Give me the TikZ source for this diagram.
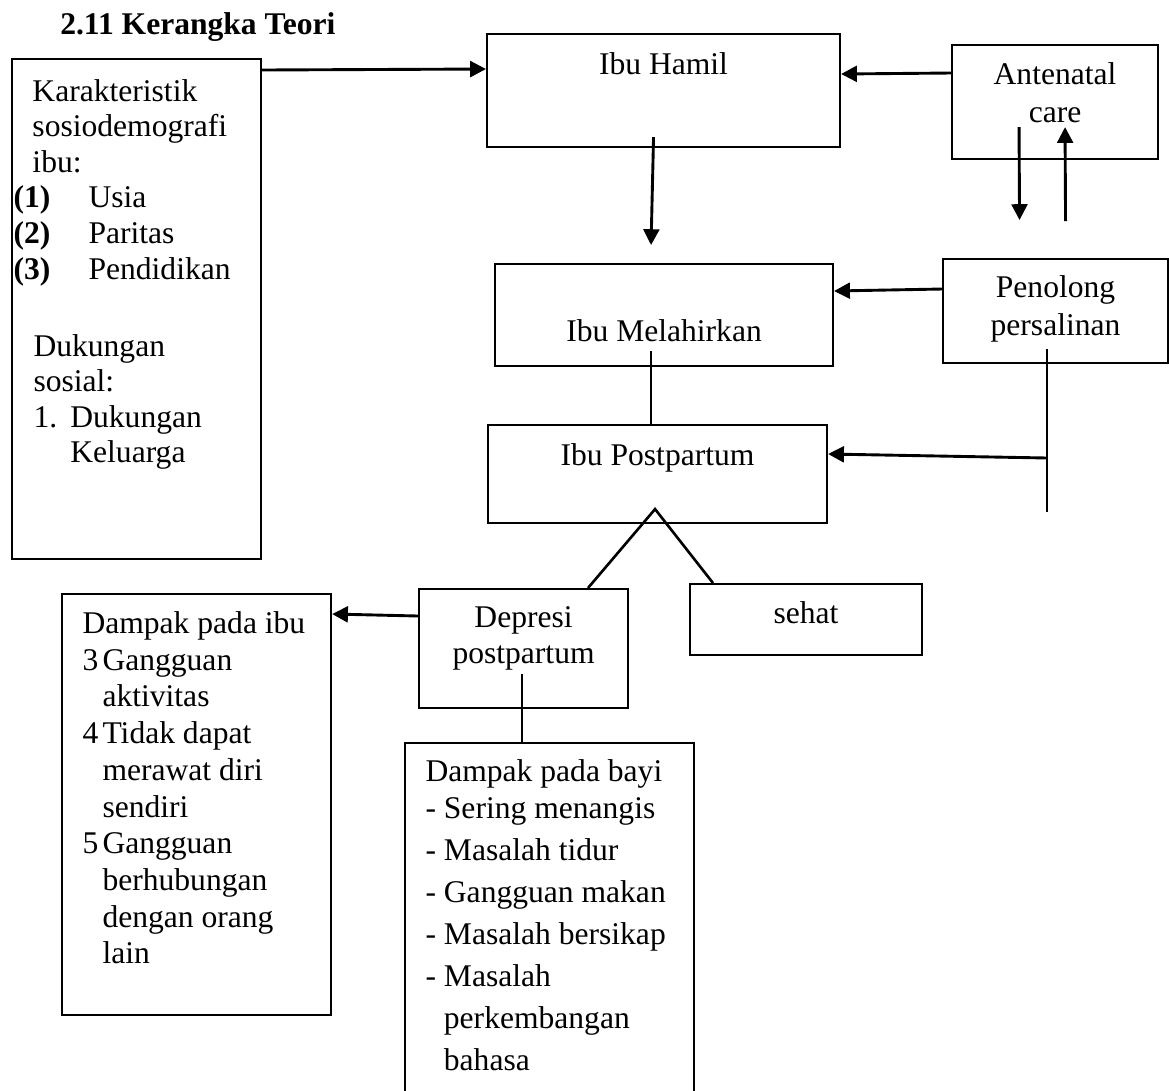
\documentclass[tikz,border=0pt]{standalone}
\usepackage{fontspec}
\setmainfont{Liberation Serif}
\usetikzlibrary{calc,arrows.meta}

\begin{document}
\begin{tikzpicture}[x=0.38pt, y=-0.38pt,
  font=\fontsize{12}{13.5}\selectfont,
  box/.style 2 args={draw, line width=0.8pt, inner sep=0pt, anchor=north west,
    minimum width=#1*0.38pt, minimum height=#2*0.38pt},
  txt/.style={inner sep=0pt, align=left, anchor=north west},
  lskip/.style={font=\fontsize{12}{#1}\selectfont},
  arr/.style={line width=1.1pt, -{Triangle[length=6pt, width=6pt]}},
  conn/.style={line width=1pt}]
  \useasboundingbox (0,0) rectangle (1169,1091);

  \node[anchor=base west, font=\fontsize{12}{13.5}\selectfont\bfseries] (judul) at (51,34) {2.11 Kerangka Teori};

  % kotak
  \node[box={249}{500}] (sosio) at (11,58) {};
  \node[box={353}{113}] (hamil) at (486,33) {};
  \node[box={206}{114}] (anc) at (951,44) {};
  \node[box={338}{102}] (lahir) at (494,263) {};
  \node[box={225}{104}] (tolong) at (942,258) {};
  \node[box={339}{98}] (postp) at (487,424) {};
  \node[box={209}{119}] (depresi) at (418,588) {};
  \node[box={232}{71}] (sehat) at (689,583) {};
  \node[box={269}{421}] (dibu) at (61,593) {};
  \node[box={289}{352}] (dbayi) at (404,742) {};   % bawahnya terpotong

  % teks
  \node[txt] (sosiotxt) at (13,76) {\strut\hspace*{7.2pt}Karakteristik\\
    \hspace*{7.2pt}sosiodemografi\\
    \hspace*{7.2pt}ibu:\\
    \makebox[28.5pt][l]{\textbf{(1)}}Usia\\
    \makebox[28.5pt][l]{\textbf{(2)}}Paritas\\
    \makebox[28.5pt][l]{\textbf{(3)}}Pendidikan\\[15.8pt]
    \hspace*{7.6pt}Dukungan\\
    \hspace*{7.6pt}sosial:\\
    \hspace*{7.6pt}\makebox[14pt][l]{1.}Dukungan\\
    \hspace*{21.6pt}Keluarga};
  \node[anchor=base] (hamiltxt) at (hamil.north |- 0,74) {Ibu Hamil};
  \node[txt, anchor=north, align=center, lskip=14.44pt] (anctxt) at (anc.north |- 0,57.4) {\strut Antenatal\\ care};
  \node[anchor=base] (lahirtxt) at (lahir.north |- 0,341) {Ibu Melahirkan};
  \node[txt, anchor=north, align=center, lskip=14.44pt] (tolongtxt) at (tolong.north |- 0,270.4) {\strut Penolong\\ persalinan};
  \node[anchor=base] (postptxt) at (postp.north |- 0,465) {Ibu Postpartum};
  \node[txt, anchor=north, align=center, lskip=13.68pt] (depresitxt) at (depresi.north |- 0,601.8) {\strut Depresi\\ postpartum};
  \node[anchor=base] (sehattxt) at (sehat.north |- 0,623) {sehat};
  \node[txt, lskip=13.95pt] (dibutxt) at (82,607.3) {\strut Dampak pada ibu\\
    \makebox[7.6pt][l]{3}Gangguan\\
    \hspace*{7.6pt}aktivitas\\
    \makebox[7.6pt][l]{4}Tidak dapat\\
    \hspace*{7.6pt}merawat diri\\
    \hspace*{7.6pt}sendiri\\
    \makebox[7.6pt][l]{5}Gangguan\\
    \hspace*{7.6pt}berhubungan\\
    \hspace*{7.6pt}dengan orang\\
    \hspace*{7.6pt}lain};
  \node[txt, lskip=15.96pt] (dbayitxt) at (425,751.6) {\strut Dampak pada bayi\\[-1.9pt]
    - Sering menangis\\
    - Masalah tidur\\
    - Gangguan makan\\
    - Masalah bersikap\\
    - Masalah\\
    \hphantom{- }perkembangan\\
    \hphantom{- }bahasa};

  % panah
  \draw[arr] (sosio.east |- 0,70) -- (hamil.west |- 0,69);
  \draw[arr] (anc.west |- 0,73) -- (hamil.east |- 0,74);
  \draw[arr] ($(hamil.south)+(-10,-11)$) -- ($(lahir.north)+(-13,-18)$);
  \draw[arr] ($(anc.south)+(-36,-33)$) -- ($(tolong.north)+(-36,-38)$);
  \draw[arr] ($(tolong.north)+(10,-37)$) -- ($(anc.south)+(10,-33)$);
  \draw[arr] (tolong.west |- 0,289) -- (lahir.east |- 0,291);
  \draw[conn] ($(lahir.south)+(-13,-16)$) coordinate (lahirbawah) -- (lahirbawah |- postp.north);
  \draw[conn] ($(tolong.south)+(-8.5,-15)$) coordinate (tolongbawah) -- ++(0,163);
  \draw[arr] (tolongbawah |- 0,458) -- (postp.east |- 0,454);
  \coordinate (cabang) at ($(postp.south)+(-2.5,-15)$);
  \draw[conn] (depresi.north -| 588,0) -- (cabang) -- (sehat.north -| 713,0);
  \draw[arr] (depresi.west |- 0,616) -- (dibu.east |- 0,614);
  \draw[conn] ($(depresi.south)+(-1.5,-35)$) coordinate (depbawah) -- (depbawah |- dbayi.north);
\end{tikzpicture}
\end{document}
